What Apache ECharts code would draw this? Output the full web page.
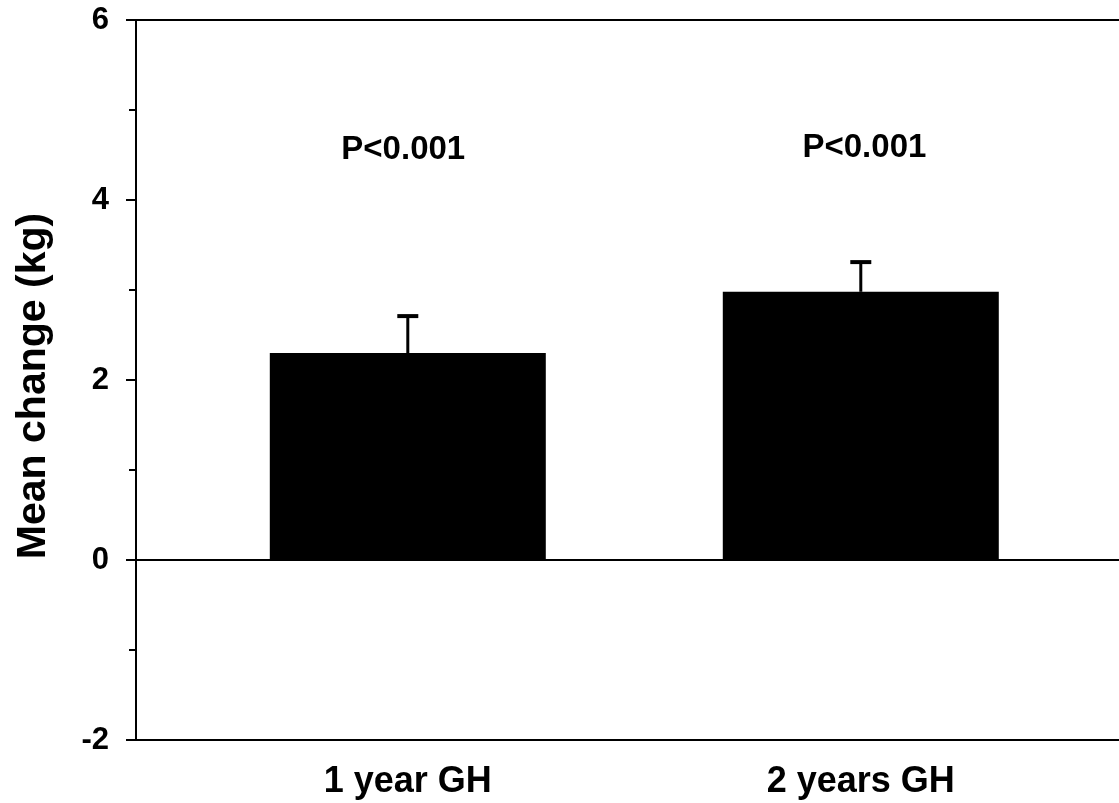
<!DOCTYPE html>
<html>
<head>
<meta charset="utf-8">
<script src="https://cdn.jsdelivr.net/npm/echarts@6/dist/echarts.min.js"></script>
<style>
  html, body { margin: 0; padding: 0; background: #fff; }
  #chart { width: 1119px; height: 803px; }
</style>
</head>
<body>
<div id="chart"></div>
<script>
const categories = ["1 year GH", "2 years GH"];
const positions = [1, 2];
const means = [2.3, 2.98];
const errors = [0.41, 0.33];
const pLabels = ["P<0.001", "P<0.001"];
const pLabelX = [0.99, 2.008];
const pLabelY = [4.555, 4.58];
const yTicks = [-2, 0, 2, 4, 6];

const font = "'Liberation Sans', Arial, sans-serif";
const chart = echarts.init(document.getElementById("chart"));

// x range runs past the right edge, so the box's right side is off-canvas
const xMin = 0.4;
const xMax = 2.57;

chart.setOption({
  animation: false,
  grid: { left: 136, right: 0, top: 20, bottom: 63 },
  xAxis: [
    {
      type: "value",
      min: xMin,
      max: xMax,
      splitLine: { show: false },
      axisLine: { onZero: false, lineStyle: { color: "#000", width: 2 } },
      axisTick: { show: false },
      axisLabel: {
        customValues: positions,
        formatter: (v) => categories[positions.indexOf(v)] || "",
        color: "#000",
        fontFamily: font,
        fontWeight: "bold",
        fontSize: 36,
        margin: 24,
      },
    },
    {
      type: "value",
      position: "top",
      min: xMin,
      max: xMax,
      splitLine: { show: false },
      axisLine: { onZero: false, lineStyle: { color: "#000", width: 2 } },
      axisTick: { show: false },
      axisLabel: { show: false },
    },
  ],
  yAxis: {
    type: "value",
    min: yTicks[0],
    max: yTicks[yTicks.length - 1],
    interval: 2,
    name: "Mean change (kg)",
    nameLocation: "middle",
    nameRotate: 90,
    nameGap: 82,
    nameTextStyle: {
      color: "#000",
      fontFamily: font,
      fontWeight: "bold",
      fontSize: 41,
      padding: [0, 12, 0, 0],
    },
    splitLine: { show: false },
    axisLine: { show: true, lineStyle: { color: "#000", width: 2 } },
    axisTick: { show: true, length: 10, lineStyle: { color: "#000", width: 2 } },
    minorTick: { show: true, splitNumber: 2, length: 7, lineStyle: { color: "#000", width: 2 } },
    axisLabel: {
      color: "#000",
      fontFamily: font,
      fontWeight: "bold",
      fontSize: 31,
      margin: 27,
    },
  },
  series: [
    {
      type: "bar",
      xAxisIndex: 0,
      data: positions.map((x, i) => [x, means[i]]),
      barWidth: 276,
      itemStyle: { color: "#000" },
      markLine: {
        silent: true,
        symbol: "none",
        label: { show: false },
        lineStyle: { color: "#000", width: 2, type: "solid" },
        data: [{ yAxis: 0 }],
      },
    },
    {
      type: "custom",
      xAxisIndex: 0,
      data: positions.map((x, i) => [x, means[i], means[i] + errors[i]]),
      renderItem: (params, api) => {
        const base = api.coord([api.value(0), api.value(1)]);
        const top = api.coord([api.value(0), api.value(2)]);
        return {
          type: "group",
          children: [
            {
              type: "line",
              shape: { x1: base[0], y1: base[1], x2: top[0], y2: top[1] },
              style: { stroke: "#000", lineWidth: 3 },
            },
            {
              type: "line",
              shape: { x1: top[0] - 10.5, y1: top[1], x2: top[0] + 10.5, y2: top[1] },
              style: { stroke: "#000", lineWidth: 4 },
            },
          ],
        };
      },
      z: 3,
    },
    {
      type: "scatter",
      xAxisIndex: 0,
      data: pLabelX.map((x, i) => [x, pLabelY[i]]),
      symbolSize: 0,
      itemStyle: { opacity: 1 },
      label: {
        show: true,
        position: "inside",
        formatter: (p) => pLabels[p.dataIndex],
        color: "#000",
        opacity: 1,
        fontFamily: font,
        fontWeight: "bold",
        fontSize: 33,
      },
    },
  ],
});
</script>
</body>
</html>
